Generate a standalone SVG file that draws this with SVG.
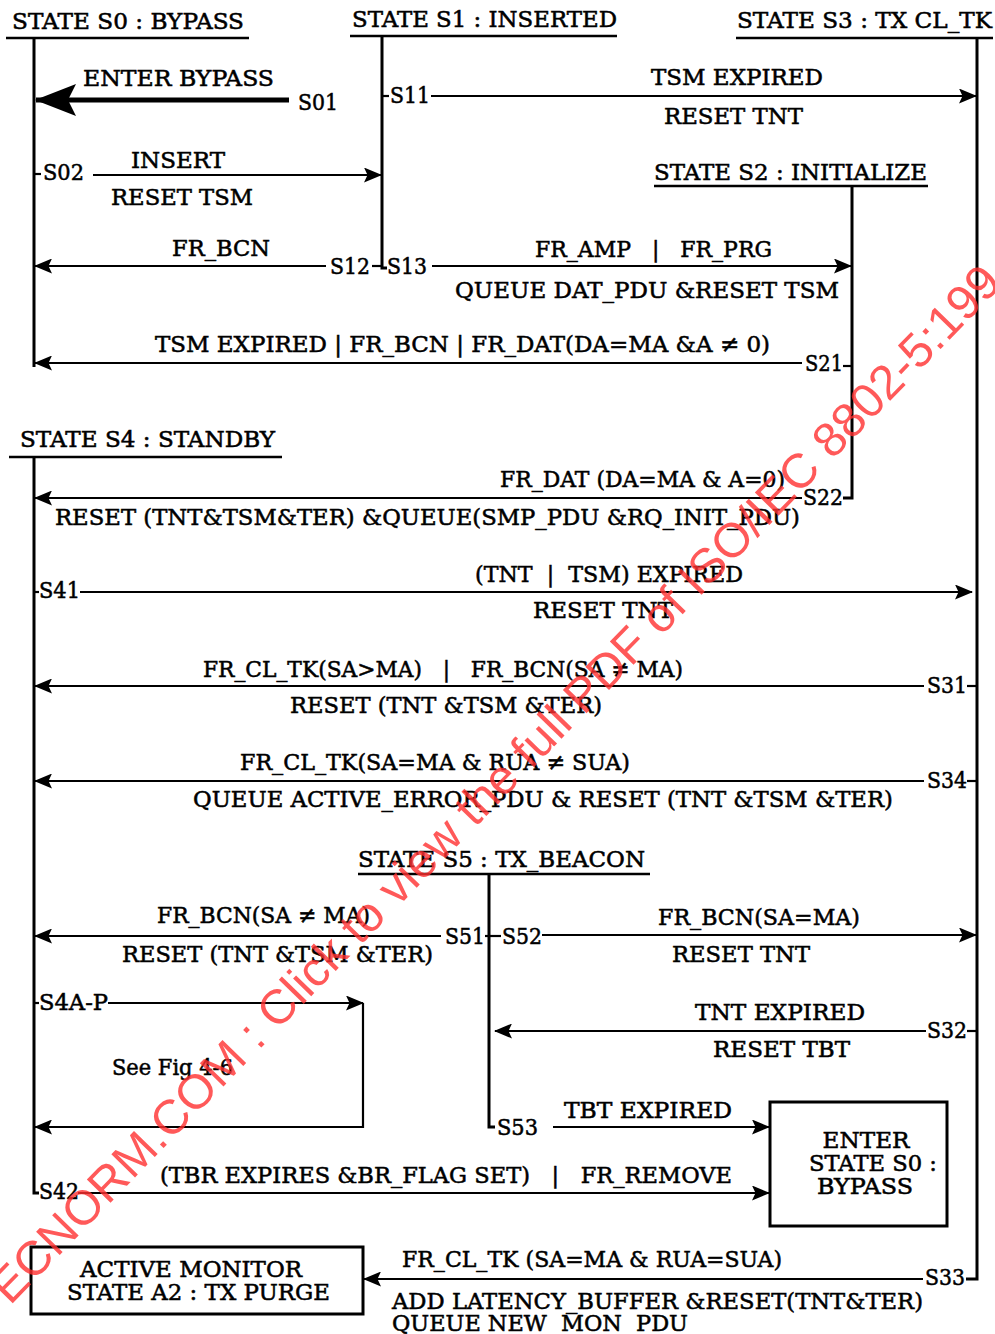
<svg xmlns="http://www.w3.org/2000/svg" width="995" height="1334" viewBox="0 0 995 1334">
<style>
.t{font-family:"DejaVu Serif","Liberation Serif",serif;font-size:23px;fill:#000;stroke:#000;stroke-width:0.55}
.c{text-anchor:middle}
.st{stroke:#000;stroke-width:3;fill:none}
.ln{stroke:#000;stroke-width:2.2;fill:none}
.ul{stroke:#000;stroke-width:2.6}
.box{stroke:#000;stroke-width:3;fill:#fff}
.wm{font-family:"Liberation Sans",Arial,sans-serif;font-size:48px;fill:#ff3030;opacity:0.8}
</style>
<defs>
<marker id="ah" markerUnits="userSpaceOnUse" markerWidth="19" markerHeight="15" refX="17" refY="7.5" orient="auto">
<path d="M0,0 L18,7.5 L0,15 L3.5,7.5 z" fill="#000"/>
</marker>
<marker id="big" markerUnits="userSpaceOnUse" markerWidth="42" markerHeight="32" refX="40" refY="16" orient="auto">
<path d="M0,0 L41,16 L0,32 L8,16 z" fill="#000"/>
</marker>
</defs>
<rect width="995" height="1334" fill="#fff"/>

<g id="state-s0">
<text class="t" x="12" y="29" textLength="232" lengthAdjust="spacingAndGlyphs">STATE S0 : BYPASS</text>
<line class="ul" x1="6" y1="38" x2="249" y2="38"/>
<line class="st" x1="34" y1="38" x2="34" y2="367"/>
</g>
<g id="state-s1">
<text class="t" x="352" y="27" textLength="265" lengthAdjust="spacingAndGlyphs">STATE S1 : INSERTED</text>
<line class="ul" x1="350" y1="36" x2="617" y2="36"/>
<path class="st" d="M382,36 V268 H387"/>
</g>
<g id="state-s3">
<text class="t" x="737" y="28" textLength="255" lengthAdjust="spacingAndGlyphs">STATE S3 : TX CL_TK</text>
<line class="ul" x1="736" y1="38" x2="993" y2="38"/>
<path class="st" d="M977,38 V1279 H966"/>
</g>
<g id="state-s2">
<text class="t" x="654" y="180" textLength="273" lengthAdjust="spacingAndGlyphs">STATE S2 : INITIALIZE</text>
<line class="ul" x1="654" y1="186" x2="928" y2="186"/>
<path class="st" d="M852,186 V498 H843"/>
</g>
<g id="state-s4">
<text class="t" x="20" y="447" textLength="255" lengthAdjust="spacingAndGlyphs">STATE S4 : STANDBY</text>
<line class="ul" x1="9" y1="457" x2="282" y2="457"/>
<path class="st" d="M34,457 V1193 H39"/>
</g>
<g id="state-s5">
<text class="t" x="358" y="867" textLength="287" lengthAdjust="spacingAndGlyphs">STATE S5 : TX_BEACON</text>
<line class="ul" x1="358" y1="874" x2="650" y2="874"/>
<path class="st" d="M489,874 V1127 H495"/>
</g>
<g id="box-enter-bypass">
<rect class="box" x="770" y="1102" width="177" height="124"/>
<text class="t c" x="866" y="1148" textLength="87" lengthAdjust="spacingAndGlyphs">ENTER</text>
<text class="t c" x="873" y="1171" textLength="128" lengthAdjust="spacingAndGlyphs">STATE S0 :</text>
<text class="t c" x="865" y="1194" textLength="96" lengthAdjust="spacingAndGlyphs">BYPASS</text>
</g>
<g id="box-active-monitor">
<rect class="box" x="31" y="1247" width="332" height="67"/>
<text class="t" x="80" y="1277" textLength="222" lengthAdjust="spacingAndGlyphs">ACTIVE MONITOR</text>
<text class="t" x="67" y="1300" textLength="263" lengthAdjust="spacingAndGlyphs">STATE A2 : TX PURGE</text>
</g>

<g id="connectors">
<g id="s01">
<line x1="289" y1="100" x2="36" y2="100" stroke="#000" stroke-width="5" marker-end="url(#big)"/>
<text class="t" x="83" y="86" textLength="191" lengthAdjust="spacingAndGlyphs">ENTER BYPASS</text>
<text class="t" x="298" y="110" textLength="40" lengthAdjust="spacingAndGlyphs">S01</text>
</g>
<g id="s11">
<line class="ln" x1="382" y1="96" x2="389" y2="96"/>
<line class="ln" x1="431" y1="96" x2="976" y2="96" marker-end="url(#ah)"/>
<text class="t" x="390" y="103" textLength="40" lengthAdjust="spacingAndGlyphs">S11</text>
<text class="t" x="651" y="85" textLength="172" lengthAdjust="spacingAndGlyphs">TSM EXPIRED</text>
<text class="t" x="664" y="124" textLength="139" lengthAdjust="spacingAndGlyphs">RESET TNT</text>
</g>
<g id="s02">
<line class="ln" x1="34" y1="174" x2="41" y2="174"/>
<line class="ln" x1="93" y1="175" x2="381" y2="175" marker-end="url(#ah)"/>
<text class="t" x="43" y="180" textLength="41" lengthAdjust="spacingAndGlyphs">S02</text>
<text class="t" x="131" y="168" textLength="94" lengthAdjust="spacingAndGlyphs">INSERT</text>
<text class="t" x="111" y="205" textLength="142" lengthAdjust="spacingAndGlyphs">RESET TSM</text>
</g>
<g id="s12">
<line class="ln" x1="372" y1="266" x2="382" y2="266"/>
<line class="ln" x1="326" y1="266" x2="35" y2="266" marker-end="url(#ah)"/>
<text class="t" x="330" y="274" textLength="40" lengthAdjust="spacingAndGlyphs">S12</text>
<text class="t" x="172" y="256" textLength="98" lengthAdjust="spacingAndGlyphs">FR_BCN</text>
</g>
<g id="s13">
<line class="ln" x1="432" y1="266" x2="851" y2="266" marker-end="url(#ah)"/>
<text class="t" x="387" y="274" textLength="40" lengthAdjust="spacingAndGlyphs">S13</text>
<text class="t" x="535" y="257" textLength="237" lengthAdjust="spacingAndGlyphs" xml:space="preserve">FR_AMP   |   FR_PRG</text>
<text class="t" x="455" y="298" textLength="384" lengthAdjust="spacingAndGlyphs">QUEUE DAT_PDU &amp;RESET TSM</text>
</g>
<g id="s21">
<line class="ln" x1="843" y1="366" x2="852" y2="366"/>
<line class="ln" x1="802" y1="363" x2="35" y2="363" marker-end="url(#ah)"/>
<text class="t" x="805" y="371" textLength="38" lengthAdjust="spacingAndGlyphs">S21</text>
<text class="t" x="155" y="352" textLength="615" lengthAdjust="spacingAndGlyphs">TSM EXPIRED | FR_BCN | FR_DAT(DA=MA &amp;A ≠ 0)</text>
</g>
<g id="s22">
<line class="ln" x1="802" y1="498" x2="35" y2="498" marker-end="url(#ah)"/>
<text class="t" x="803" y="505" textLength="40" lengthAdjust="spacingAndGlyphs">S22</text>
<text class="t" x="500" y="487" textLength="285" lengthAdjust="spacingAndGlyphs">FR_DAT (DA=MA &amp; A=0)</text>
<text class="t" x="55" y="525" textLength="745" lengthAdjust="spacingAndGlyphs">RESET (TNT&amp;TSM&amp;TER) &amp;QUEUE(SMP_PDU &amp;RQ_INIT_PDU)</text>
</g>
<g id="s41">
<line class="ln" x1="34" y1="592" x2="39" y2="592"/>
<line class="ln" x1="80" y1="592" x2="972" y2="592" marker-end="url(#ah)"/>
<text class="t" x="39" y="598" textLength="41" lengthAdjust="spacingAndGlyphs">S41</text>
<text class="t" x="475" y="582" textLength="268" lengthAdjust="spacingAndGlyphs" xml:space="preserve">(TNT  |  TSM) EXPIRED</text>
<text class="t" x="533" y="618" textLength="140" lengthAdjust="spacingAndGlyphs">RESET TNT</text>
</g>
<g id="s31">
<line class="ln" x1="967" y1="686" x2="977" y2="686"/>
<line class="ln" x1="924" y1="686" x2="35" y2="686" marker-end="url(#ah)"/>
<text class="t" x="927" y="693" textLength="40" lengthAdjust="spacingAndGlyphs">S31</text>
<text class="t" x="203" y="677" textLength="480" lengthAdjust="spacingAndGlyphs" xml:space="preserve">FR_CL_TK(SA&gt;MA)   |   FR_BCN(SA ≠ MA)</text>
<text class="t" x="290" y="713" textLength="312" lengthAdjust="spacingAndGlyphs">RESET (TNT &amp;TSM &amp;TER)</text>
</g>
<g id="s34">
<line class="ln" x1="967" y1="781" x2="977" y2="781"/>
<line class="ln" x1="924" y1="781" x2="35" y2="781" marker-end="url(#ah)"/>
<text class="t" x="927" y="788" textLength="40" lengthAdjust="spacingAndGlyphs">S34</text>
<text class="t" x="240" y="770" textLength="390" lengthAdjust="spacingAndGlyphs">FR_CL_TK(SA=MA &amp; RUA ≠ SUA)</text>
<text class="t" x="193" y="807" textLength="700" lengthAdjust="spacingAndGlyphs">QUEUE ACTIVE_ERROR_PDU &amp; RESET (TNT &amp;TSM &amp;TER)</text>
</g>
<g id="s51">
<line class="ln" x1="485" y1="936" x2="501" y2="936"/>
<line class="ln" x1="441" y1="936" x2="35" y2="936" marker-end="url(#ah)"/>
<text class="t" x="445" y="944" textLength="40" lengthAdjust="spacingAndGlyphs">S51</text>
<text class="t" x="157" y="923" textLength="213" lengthAdjust="spacingAndGlyphs">FR_BCN(SA ≠ MA)</text>
<text class="t" x="122" y="962" textLength="311" lengthAdjust="spacingAndGlyphs">RESET (TNT &amp;TSM &amp;TER)</text>
</g>
<g id="s52">
<line class="ln" x1="542" y1="935" x2="976" y2="935" marker-end="url(#ah)"/>
<text class="t" x="502" y="944" textLength="40" lengthAdjust="spacingAndGlyphs">S52</text>
<text class="t" x="658" y="925" textLength="202" lengthAdjust="spacingAndGlyphs">FR_BCN(SA=MA)</text>
<text class="t" x="672" y="962" textLength="138" lengthAdjust="spacingAndGlyphs">RESET TNT</text>
</g>
<g id="s4a-p">
<line class="ln" x1="34" y1="1003" x2="39" y2="1003"/>
<line class="ln" x1="108" y1="1003" x2="363" y2="1003" marker-end="url(#ah)"/>
<path class="ln" d="M363,1003 V1127 H35" marker-end="url(#ah)"/>
<text class="t" x="39" y="1010" textLength="69" lengthAdjust="spacingAndGlyphs">S4A-P</text>
<text class="t" x="112" y="1075" textLength="121" lengthAdjust="spacingAndGlyphs">See Fig 4-6</text>
</g>
<g id="s32">
<line class="ln" x1="967" y1="1031" x2="977" y2="1031"/>
<line class="ln" x1="926" y1="1031" x2="495" y2="1031" marker-end="url(#ah)"/>
<text class="t" x="927" y="1038" textLength="40" lengthAdjust="spacingAndGlyphs">S32</text>
<text class="t" x="695" y="1020" textLength="170" lengthAdjust="spacingAndGlyphs">TNT EXPIRED</text>
<text class="t" x="713" y="1057" textLength="137" lengthAdjust="spacingAndGlyphs">RESET TBT</text>
</g>
<g id="s53">
<line class="ln" x1="553" y1="1127" x2="769" y2="1127" marker-end="url(#ah)"/>
<text class="t" x="497" y="1135" textLength="41" lengthAdjust="spacingAndGlyphs">S53</text>
<text class="t" x="564" y="1118" textLength="168" lengthAdjust="spacingAndGlyphs">TBT EXPIRED</text>
</g>
<g id="s42">
<line class="ln" x1="78" y1="1193" x2="769" y2="1193" marker-end="url(#ah)"/>
<text class="t" x="39" y="1199" textLength="40" lengthAdjust="spacingAndGlyphs">S42</text>
<text class="t" x="160" y="1183" textLength="572" lengthAdjust="spacingAndGlyphs" xml:space="preserve">(TBR EXPIRES &amp;BR_FLAG SET)   |   FR_REMOVE</text>
</g>
<g id="s33">
<line class="ln" x1="923" y1="1279" x2="364" y2="1279" marker-end="url(#ah)"/>
<text class="t" x="925" y="1285" textLength="40" lengthAdjust="spacingAndGlyphs">S33</text>
<text class="t" x="402" y="1267" textLength="380" lengthAdjust="spacingAndGlyphs">FR_CL_TK (SA=MA &amp; RUA=SUA)</text>
<text class="t" x="392" y="1309" textLength="531" lengthAdjust="spacingAndGlyphs">ADD LATENCY_BUFFER &amp;RESET(TNT&amp;TER)</text>
<text class="t" x="392" y="1331" textLength="296" lengthAdjust="spacingAndGlyphs" xml:space="preserve">QUEUE NEW  MON  PDU</text>
</g>
</g>

<text class="wm" transform="translate(10,1306) rotate(-45.8)" textLength="1425" lengthAdjust="spacingAndGlyphs">ECNORM.COM : Click to view the full PDF of ISO/IEC 8802-5:199</text>
</svg>
